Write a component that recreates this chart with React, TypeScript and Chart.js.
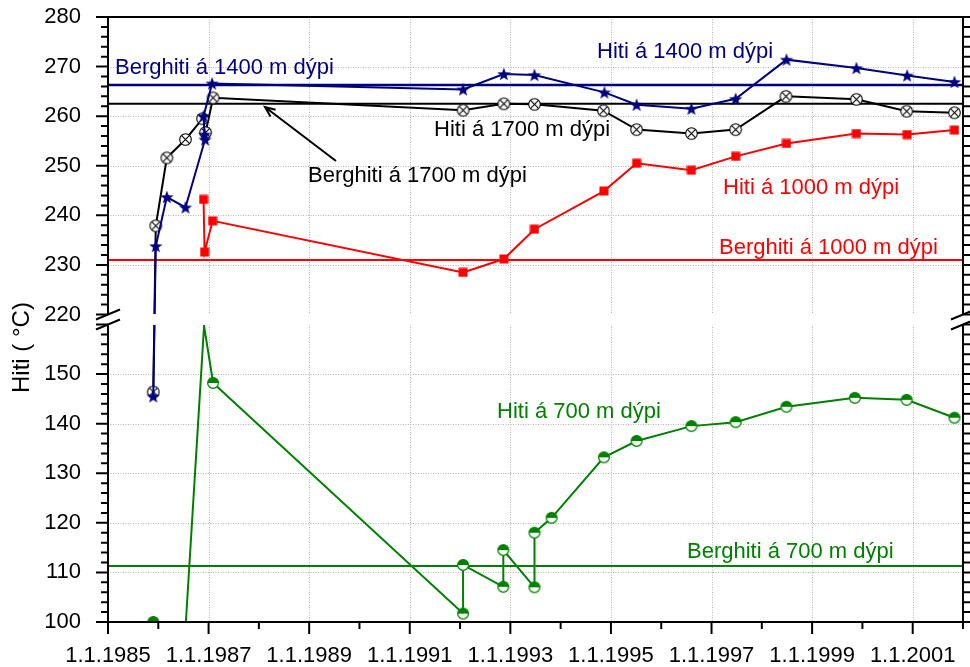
import React, { useEffect, useRef } from "react";
import { Chart, registerables } from "chart.js";

Chart.register(...registerables);

const FONT = "'Liberation Sans', Arial, Helvetica, sans-serif";

// ---- axes ----
const X_MIN = 1985;
const X_MAX = 2002;
const xTickYears = [1985, 1987, 1989, 1991, 1993, 1995, 1997, 1999, 2001];
const yTicksLower = [100, 110, 120, 130, 140, 150];
const yTicksUpper = [220, 230, 240, 250, 260, 270, 280];
const LOWER_MIN = 100;
const LOWER_MAX = 160;
const UPPER_MIN = 220;
const UPPER_MAX = 280;
const SHIFT = 58; // upper segment is drawn shifted down by this amount

// ---- series: Hiti á 1400 m dýpi ----
const h1400Years = [1985.9, 1985.95, 1986.17, 1986.54, 1986.93, 1986.92, 1986.9, 1987.07, 1992.06, 1992.87, 1993.48, 1994.87, 1995.51, 1996.6, 1997.48, 1998.49, 1999.88, 2000.89, 2001.83];
const h1400Temps = [145.5, 233.8, 243.7, 241.6, 255.3, 256.3, 260.0, 266.6, 265.4, 268.5, 268.3, 264.8, 262.3, 261.5, 263.5, 271.4, 269.7, 268.2, 266.9];

// ---- series: Hiti á 1700 m dýpi ----
const h1700Years = [1985.9, 1985.95, 1986.17, 1986.54, 1986.88, 1986.94, 1987.09, 1992.06, 1992.87, 1993.48, 1994.85, 1995.51, 1996.6, 1997.48, 1998.48, 1999.88, 2000.88, 2001.83];
const h1700Temps = [146.4, 237.9, 251.6, 255.3, 259.5, 256.7, 263.7, 261.2, 262.5, 262.4, 261.1, 257.3, 256.5, 257.3, 264.0, 263.4, 261.0, 260.7];

// ---- series: Hiti á 1000 m dýpi ----
const h1000Years = [1986.9, 1986.92, 1987.08, 1992.06, 1992.87, 1993.48, 1994.86, 1995.51, 1996.6, 1997.48, 1998.49, 1999.88, 2000.89, 2001.83];
const h1000Temps = [243.2, 232.6, 238.9, 228.5, 231.2, 237.2, 244.9, 250.5, 249.1, 251.9, 254.5, 256.5, 256.3, 257.2];

// ---- series: Hiti á 700 m dýpi ----
const h700Years = [1985.9, 1986.5, 1986.91, 1987.09, 1992.06, 1992.06, 1992.86, 1992.86, 1993.48, 1993.48, 1993.82, 1994.86, 1995.51, 1996.6, 1997.48, 1998.49, 1999.85, 2000.88, 2001.83];
const h700Temps = [100, 92, 159.7, 148.2, 101.7, 111.5, 107.1, 114.5, 107.0, 118.0, 121.0, 133.2, 136.5, 139.5, 140.3, 143.4, 145.2, 144.8, 141.2];
const h700Marker = [1, 0, 0, 1, 1, 1, 1, 1, 1, 1, 1, 1, 1, 1, 1, 1, 1, 1, 1];

// ---- reference levels (Berghiti) ----
const berghiti1400 = 266.3;
const berghiti1700 = 262.5;
const berghiti1000 = 231.0;
const berghiti700 = 111.3;

const NAVY = "#000080";
const RED = "#ff0000";
const GREEN = "#008000";
const BLACK = "#000000";

const tf = (v: number) => (v >= 190 ? v - SHIFT : v);
const untf = (t: number) => (t > LOWER_MAX + 1 ? t + SHIFT : t);

function mk(size: number, draw: (g: CanvasRenderingContext2D, c: number) => void) {
  const c = document.createElement("canvas");
  c.width = size;
  c.height = size;
  const g = c.getContext("2d")!;
  draw(g, size / 2);
  return c;
}

const starImg = () =>
  mk(16, (g, c) => {
    g.beginPath();
    for (let i = 0; i < 10; i++) {
      const a = -Math.PI / 2 + (i * Math.PI) / 5;
      const r = i % 2 === 0 ? 7 : 2.9;
      g.lineTo(c + Math.cos(a) * r, c + 0.6 + Math.sin(a) * r);
    }
    g.closePath();
    g.fillStyle = NAVY;
    g.fill();
  });

const crossCircleImg = () =>
  mk(15, (g, c) => {
    g.beginPath();
    g.arc(c, c, 5.8, 0, Math.PI * 2);
    g.fillStyle = "#fff";
    g.fill();
    g.lineWidth = 1.1;
    g.strokeStyle = BLACK;
    g.stroke();
    const d = 5.8 * Math.SQRT1_2;
    g.beginPath();
    g.moveTo(c - d, c - d);
    g.lineTo(c + d, c + d);
    g.moveTo(c + d, c - d);
    g.lineTo(c - d, c + d);
    g.stroke();
  });

const squareImg = () =>
  mk(10, (g) => {
    g.fillStyle = RED;
    g.fillRect(0.5, 0.5, 9, 9);
  });

const halfCircleImg = () =>
  mk(14, (g, c) => {
    g.beginPath();
    g.arc(c, c, 5.4, 0, Math.PI * 2);
    g.fillStyle = "#fff";
    g.fill();
    g.beginPath();
    g.arc(c, c, 5.4, Math.PI, Math.PI * 2);
    g.closePath();
    g.fillStyle = GREEN;
    g.fill();
    g.beginPath();
    g.arc(c, c, 5.4, 0, Math.PI * 2);
    g.lineWidth = 1.3;
    g.strokeStyle = GREEN;
    g.stroke();
  });

const pts = (xs: number[], ys: number[]) => xs.map((x, i) => ({ x, y: tf(ys[i]) }));
const hline = (v: number) => [
  { x: X_MIN, y: tf(v) },
  { x: X_MAX, y: tf(v) },
];

const decor = {
  id: "decor",
  beforeDatasetsDraw(chart: any) {
    const { ctx, chartArea: a, scales } = chart;
    const xs = scales.x;
    const ys = scales.y;
    ctx.save();
    ctx.strokeStyle = "#b4b4b4";
    ctx.lineWidth = 1;
    ctx.setLineDash([1, 1.5]);
    for (const yr of xTickYears) {
      const px = Math.round(xs.getPixelForValue(yr)) + 0.5;
      ctx.beginPath();
      ctx.moveTo(px, a.top);
      ctx.lineTo(px, a.bottom);
      ctx.stroke();
    }
    for (const v of [...yTicksLower, ...yTicksUpper]) {
      const py = Math.round(ys.getPixelForValue(tf(v))) + 0.5;
      ctx.beginPath();
      ctx.moveTo(a.left, py);
      ctx.lineTo(a.right, py);
      ctx.stroke();
    }
    ctx.restore();
  },
  afterDatasetsDraw(chart: any) {
    const { ctx, chartArea: a, scales } = chart;
    const xs = scales.x;
    const ys = scales.y;
    const py = (v: number) => ys.getPixelForValue(tf(v));
    const px = (yr: number) => xs.getPixelForValue(yr);
    const yTop = py(UPPER_MIN);
    const yBot = py(LOWER_MAX);
    ctx.save();
    // break gap
    ctx.fillStyle = "#fff";
    ctx.fillRect(a.left - 14, yTop - 0.5, a.right - a.left + 28, yBot - yTop + 1);

    // frame
    ctx.strokeStyle = BLACK;
    ctx.lineWidth = 2;
    ctx.setLineDash([]);
    ctx.beginPath();
    ctx.moveTo(a.left - 1, a.top);
    ctx.lineTo(a.right + 1, a.top);
    ctx.moveTo(a.left - 1, a.bottom);
    ctx.lineTo(a.right + 1, a.bottom);
    for (const x of [a.left, a.right]) {
      ctx.moveTo(x, a.top);
      ctx.lineTo(x, yTop);
      ctx.moveTo(x, yBot);
      ctx.lineTo(x, a.bottom);
    }
    ctx.stroke();

    // y ticks (major every 10, minor every 2)
    ctx.beginPath();
    const yTickVals: number[] = [];
    for (let v = LOWER_MIN; v <= LOWER_MAX; v += 2) yTickVals.push(v);
    for (let v = UPPER_MIN; v <= UPPER_MAX; v += 2) yTickVals.push(v);
    for (const v of yTickVals) {
      const len = v % 10 === 0 ? 12 : 7;
      const y = py(v);
      ctx.moveTo(a.left - len, y);
      ctx.lineTo(a.left, y);
      ctx.moveTo(a.right, y);
      ctx.lineTo(a.right + len, y);
    }
    // x ticks (major every 2 years, minor every year)
    for (let yr = X_MIN; yr <= X_MAX; yr++) {
      const len = (yr - X_MIN) % 2 === 0 ? 12 : 7;
      const x = px(yr);
      ctx.moveTo(x, a.bottom);
      ctx.lineTo(x, a.bottom + len);
    }
    ctx.stroke();

    // break marks
    ctx.beginPath();
    for (const x of [a.left, a.right]) {
      for (const y of [yTop, yBot]) {
        ctx.moveTo(x - 12, y + 5);
        ctx.lineTo(x + 12, y - 5);
      }
    }
    ctx.stroke();

    // annotations
    ctx.font = `22px ${FONT}`;
    ctx.textAlign = "left";
    ctx.textBaseline = "alphabetic";
    const texts: [string, string, number, number][] = [
      ["Berghiti á 1400 m dýpi", NAVY, 115, 74],
      ["Hiti á 1400 m dýpi", NAVY, 597, 58],
      ["Hiti á 1700 m dýpi", BLACK, 434, 136],
      ["Berghiti á 1700 m dýpi", BLACK, 308, 182],
      ["Hiti á 1000 m dýpi", RED, 723, 194],
      ["Berghiti á 1000 m dýpi", RED, 719, 254],
      ["Hiti á 700 m dýpi", GREEN, 497, 418],
      ["Berghiti á 700 m dýpi", GREEN, 687, 558],
    ];
    for (const [t, c, x, y] of texts) {
      ctx.fillStyle = c;
      ctx.fillText(t, x, y);
    }

    // arrow to Berghiti 1700 line
    const hx = 265, hy = 107;
    const tx = 336, ty = 161;
    ctx.strokeStyle = BLACK;
    ctx.lineWidth = 2;
    ctx.beginPath();
    ctx.moveTo(tx, ty);
    ctx.lineTo(hx, hy);
    const ang = Math.atan2(hy - ty, hx - tx);
    const L = 11;
    ctx.moveTo(hx - L * Math.cos(ang - 0.4), hy - L * Math.sin(ang - 0.4));
    ctx.lineTo(hx, hy);
    ctx.lineTo(hx - L * Math.cos(ang + 0.4), hy - L * Math.sin(ang + 0.4));
    ctx.stroke();

    // y axis title
    ctx.save();
    ctx.translate(29, 393);
    ctx.rotate(-Math.PI / 2);
    ctx.fillStyle = BLACK;
    ctx.font = `24px ${FONT}`;
    ctx.textAlign = "left";
    ctx.fillText("Hiti ( \u00B0C)", 0, 0);
    ctx.restore();

    ctx.restore();
  },
};

export default function App() {
  const ref = useRef<HTMLCanvasElement | null>(null);
  useEffect(() => {
    if (!ref.current) return;
    const star = starImg();
    const cc = crossCircleImg();
    const sq = squareImg();
    const hc = halfCircleImg();
    const base = { showLine: true, clip: 0, borderWidth: 2, pointRadius: 5, pointHoverRadius: 5 };
    const chart = new Chart(ref.current, {
      type: "scatter",
      data: {
        datasets: [
          { ...base, label: "Hiti á 1400 m dýpi", data: pts(h1400Years, h1400Temps), borderColor: NAVY, pointStyle: star as any, order: 1 },
          { ...base, label: "Hiti á 1700 m dýpi", data: pts(h1700Years, h1700Temps), borderColor: BLACK, pointStyle: cc as any, order: 2 },
          { ...base, label: "Hiti á 1000 m dýpi", data: pts(h1000Years, h1000Temps), borderColor: RED, pointStyle: sq as any, order: 3 },
          {
            ...base,
            label: "Hiti á 700 m dýpi",
            data: pts(h700Years, h700Temps),
            borderColor: GREEN,
            pointStyle: hc as any,
            pointRadius: h700Marker.map((m) => (m ? 5 : 0)),
            order: 4,
          },
          { ...base, label: "Berghiti á 1400 m dýpi", data: hline(berghiti1400), borderColor: NAVY, borderWidth: 2.5, pointRadius: 0, order: 5 },
          { ...base, label: "Berghiti á 1700 m dýpi", data: hline(berghiti1700), borderColor: BLACK, pointRadius: 0, order: 6 },
          { ...base, label: "Berghiti á 1000 m dýpi", data: hline(berghiti1000), borderColor: RED, pointRadius: 0, order: 7 },
          { ...base, label: "Berghiti á 700 m dýpi", data: hline(berghiti700), borderColor: GREEN, pointRadius: 0, order: 8 },
        ] as any,
      },
      options: {
        animation: false,
        responsive: false,
        devicePixelRatio: 1,
        layout: { padding: { left: 0, top: 17, right: 7, bottom: 0 } },
        plugins: { legend: { display: false }, tooltip: { enabled: false } },
        elements: { line: { tension: 0 } },
        scales: {
          x: {
            type: "linear",
            min: X_MIN,
            max: X_MAX,
            grid: { display: false },
            border: { display: false },
            afterBuildTicks: (s: any) => {
              s.ticks = xTickYears.map((v) => ({ value: v }));
            },
            afterFit: (s: any) => {
              s.height = 45;
              s.paddingLeft = 0;
              s.paddingRight = 0;
              s.paddingTop = 0;
              s.paddingBottom = 0;
            },
            ticks: {
              autoSkip: false,
              maxRotation: 0,
              padding: 13,
              color: BLACK,
              font: { family: FONT, size: 22 },
              callback: (v: any) => "1.1." + v,
            },
          },
          y: {
            type: "linear",
            min: LOWER_MIN,
            max: tf(UPPER_MAX),
            grid: { display: false },
            border: { display: false },
            afterBuildTicks: (s: any) => {
              s.ticks = [...yTicksLower, ...yTicksUpper].map((v) => ({ value: tf(v) }));
            },
            afterFit: (s: any) => {
              s.width = 108;
              s.paddingLeft = 0;
              s.paddingRight = 0;
              s.paddingTop = 0;
              s.paddingBottom = 0;
            },
            ticks: {
              autoSkip: false,
              padding: 19,
              color: BLACK,
              font: { family: FONT, size: 22 },
              callback: (v: any) => String(Math.round(untf(Number(v)))),
            },
          },
        },
      },
      plugins: [decor],
    });
    return () => chart.destroy();
  }, []);
  return (
    <div style={{ position: "absolute", left: 0, top: 0, width: 970, height: 667, background: "#fff" }}>
      <canvas ref={ref} width={970} height={667} style={{ display: "block" }} />
    </div>
  );
}
